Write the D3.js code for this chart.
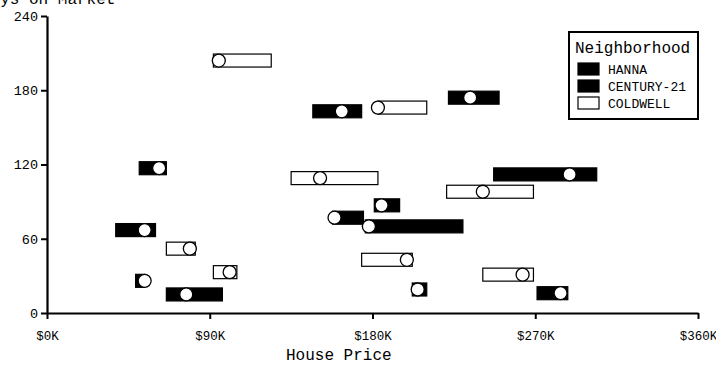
<!DOCTYPE html>
<html>
<head>
<meta charset="utf-8">
<script src="https://cdn.jsdelivr.net/npm/d3@7"></script>
<style>
  body { margin: 0; background: #fff; }
  text { font-family: "Courier New", "Liberation Mono", monospace; fill: #000; }
</style>
</head>
<body>
<svg width="716" height="366"></svg>
<script>
// listings: agency, sale price ($K), price range low/high ($K), days on market
const agency = ['COLDWELL', 'HANNA', 'COLDWELL', 'CENTURY-21', 'HANNA', 'CENTURY-21', 'COLDWELL',
  'CENTURY-21', 'COLDWELL', 'HANNA', 'CENTURY-21', 'HANNA', 'COLDWELL', 'COLDWELL', 'HANNA',
  'CENTURY-21', 'COLDWELL', 'HANNA', 'COLDWELL', 'CENTURY-21']
const price = [95, 163, 183, 234, 62, 54, 151, 289, 241, 185, 159, 178, 79, 101, 54, 77, 199, 205, 263, 284]
const lowPrice = [92, 147, 183, 222, 51, 38, 135, 247, 221, 181, 158, 176, 66, 92, 49, 66, 174, 202, 241, 271]
const highPrice = [124, 174, 210, 250, 66, 60, 183, 304, 269, 195, 175, 230, 82, 105, 54, 97, 202, 210, 269, 288]
const days = [204, 163, 166, 174, 117, 67, 109, 112, 98, 87, 77, 70, 52, 33, 26, 15, 43, 19, 31, 16]

const groups = ['HANNA', 'CENTURY-21', 'COLDWELL']
const xTicks = [0, 90, 180, 270, 360]
const yTicks = [0, 60, 120, 180, 240]

const svg = d3.select('svg')
const margin = { top: 16, right: 18, bottom: 53, left: 47 }
const width = +svg.attr('width')
const height = +svg.attr('height')

const xScale = d3.scaleLinear().domain([0, 360]).range([margin.left, width - margin.right])
const yScale = d3.scaleLinear().domain([0, 240]).range([height - margin.bottom, margin.top])
const color = d3.scaleOrdinal().domain(groups).range(['#000', '#000', '#fff'])

const data = price.map((p, i) => ({
  agency: agency[i], price: p, low: lowPrice[i], high: highPrice[i], days: days[i]
}))

const barH = 13

const marks = svg.append('g').selectAll('g').data(data).join('g')

marks.append('rect')
  .attr('x', d => xScale(d.low))
  .attr('y', d => yScale(d.days) - barH / 2)
  .attr('width', d => xScale(d.high) - xScale(d.low))
  .attr('height', barH)
  .attr('fill', d => color(d.agency))
  .attr('stroke', '#000')
  .attr('stroke-width', 1.2)

marks.append('circle')
  .attr('cx', d => xScale(d.price))
  .attr('cy', d => yScale(d.days))
  .attr('r', 6.5)
  .attr('fill', '#fff')
  .attr('stroke', '#000')
  .attr('stroke-width', 1.3)

const xAxis = svg.append('g')
  .attr('transform', `translate(0,${yScale(0)})`)
  .call(d3.axisBottom(xScale).tickValues(xTicks).tickFormat(d => `$${d}K`)
    .tickSize(6).tickSizeOuter(0).tickPadding(12))
xAxis.selectAll('text').attr('font-size', 12.5)

const yAxis = svg.append('g')
  .attr('transform', `translate(${xScale(0)},0)`)
  .call(d3.axisLeft(yScale).tickValues(yTicks).tickSize(6).tickSizeOuter(0).tickPadding(3))
yAxis.selectAll('text').attr('font-size', 13.5)

svg.selectAll('.domain').attr('stroke-width', 2.2)
svg.selectAll('.tick line').attr('stroke-width', 2)
svg.selectAll('.tick text').style('font-family', '"Courier New", "Liberation Mono", monospace')

svg.append('text')
  .attr('x', -19).attr('y', 4)
  .attr('font-size', 16)
  .text('Days on Market')

svg.append('text')
  .attr('x', 286).attr('y', 360)
  .attr('font-size', 16)
  .text('House Price')

// legend
const legend = svg.append('g').attr('transform', 'translate(569,32)')
legend.append('rect')
  .attr('width', 129).attr('height', 87)
  .attr('fill', '#fff').attr('stroke', '#000').attr('stroke-width', 2)
legend.append('text')
  .attr('x', 6).attr('y', 21)
  .attr('font-size', 16)
  .text('Neighborhood')
const items = legend.selectAll('g.item').data(groups).join('g')
  .attr('class', 'item')
  .attr('transform', (d, i) => `translate(9,${31 + i * 17})`)
items.append('rect')
  .attr('width', 21).attr('height', 12)
  .attr('fill', d => color(d)).attr('stroke', '#000').attr('stroke-width', 1.2)
items.append('text')
  .attr('x', 30).attr('y', 10.5)
  .attr('font-size', 13)
  .text(d => d)
</script>
</body>
</html>
